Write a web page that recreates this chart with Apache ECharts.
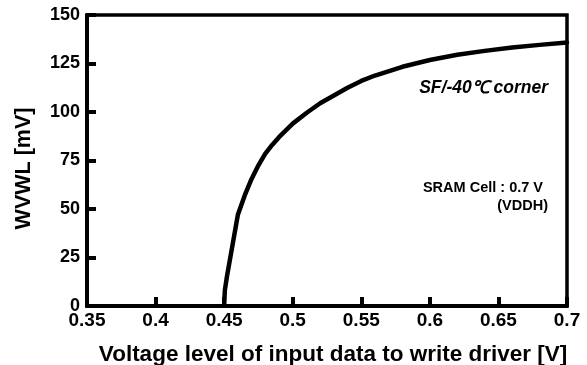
<!DOCTYPE html>
<html>
<head>
<meta charset="utf-8">
<style>
  html, body { margin: 0; padding: 0; background: #fff; }
  #chart { width: 587px; height: 365px; }
</style>
<script src="https://cdn.jsdelivr.net/npm/echarts@6/dist/echarts.min.js"></script>
</head>
<body>
<div id="chart"></div>
<script>
// input data voltage [V]
const voltage = [0.45, 0.4505, 0.452, 0.46, 0.465, 0.47, 0.475, 0.48, 0.485, 0.49, 0.495,
  0.50, 0.51, 0.52, 0.53, 0.54, 0.55, 0.56, 0.58, 0.60, 0.62, 0.64, 0.66, 0.68, 0.70];
// WVWL [mV]
const wvwl = [0, 8, 15, 47, 57, 65.5, 72.5, 78.5, 83, 87, 90.5,
  94, 99.5, 104.5, 108.5, 112.5, 116, 118.8, 123.3, 126.8, 129.5, 131.5, 133.2, 134.6, 135.8];

const xTicks = [0.35, 0.4, 0.45, 0.5, 0.55, 0.6, 0.65, 0.7];
const yTicks = [0, 25, 50, 75, 100, 125, 150];

const FONT = "'Liberation Sans', Arial, sans-serif";

const chart = echarts.init(document.getElementById("chart"));

chart.setOption({
  animation: false,
  grid: {
    left: 87,
    right: 20,
    top: 15,
    bottom: 59,
    show: true,
    borderColor: "#000",
    borderWidth: 3.5,
    outerBoundsMode: "none",
  },
  xAxis: {
    type: "value",
    min: xTicks[0],
    max: xTicks[xTicks.length - 1],
    interval: 0.05,
    name: "Voltage level of input data to write driver [V]",
    nameLocation: "middle",
    nameGap: 37,
    nameTextStyle: { color: "#000", fontFamily: FONT, fontWeight: "bold", fontSize: 22.5, padding: [0, 0, 0, 12] },
    axisLine: { lineStyle: { color: "#000", width: 4 } },
    axisTick: { inside: true, length: 9, lineStyle: { color: "#000", width: 4 } },
    axisLabel: {
      color: "#000",
      fontFamily: FONT,
      fontWeight: "bold",
      fontSize: 19,
      margin: 5,
      formatter: (v) => String(+v.toFixed(2)),
    },
    splitLine: { show: false },
  },
  yAxis: {
    type: "value",
    min: yTicks[0],
    max: yTicks[yTicks.length - 1],
    interval: 25,
    name: "WVWL [mV]",
    nameLocation: "middle",
    nameGap: 52,
    nameTextStyle: { color: "#000", fontFamily: FONT, fontWeight: "bold", fontSize: 21.5, padding: [0, 16, 0, 0] },
    axisLine: { lineStyle: { color: "#000", width: 4 } },
    axisTick: { inside: true, length: 9, lineStyle: { color: "#000", width: 4 } },
    axisLabel: {
      color: "#000",
      fontFamily: FONT,
      fontWeight: "bold",
      fontSize: 18,
      margin: 7,
    },
    splitLine: { show: false },
  },
  graphic: [
    {
      type: "text",
      right: 39,
      top: 79,
      style: {
        text: "SF/-40\u2103 corner",
        fill: "#000",
        font: "italic bold 17.5px " + FONT,
      },
    },
    {
      type: "text",
      right: 44,
      top: 180,
      style: {
        text: "SRAM Cell : 0.7 V",
        fill: "#000",
        font: "bold 14.5px " + FONT,
      },
    },
    {
      type: "text",
      right: 39,
      top: 198,
      style: {
        text: "(VDDH)",
        fill: "#000",
        font: "bold 14.5px " + FONT,
      },
    },
  ],
  series: [
    {
      type: "line",
      data: voltage.map((v, i) => [v, wvwl[i]]),
      showSymbol: false,
      smooth: false,
      lineStyle: { color: "#000", width: 4.5, cap: "round", join: "round" },
    },
  ],
});
</script>
</body>
</html>
